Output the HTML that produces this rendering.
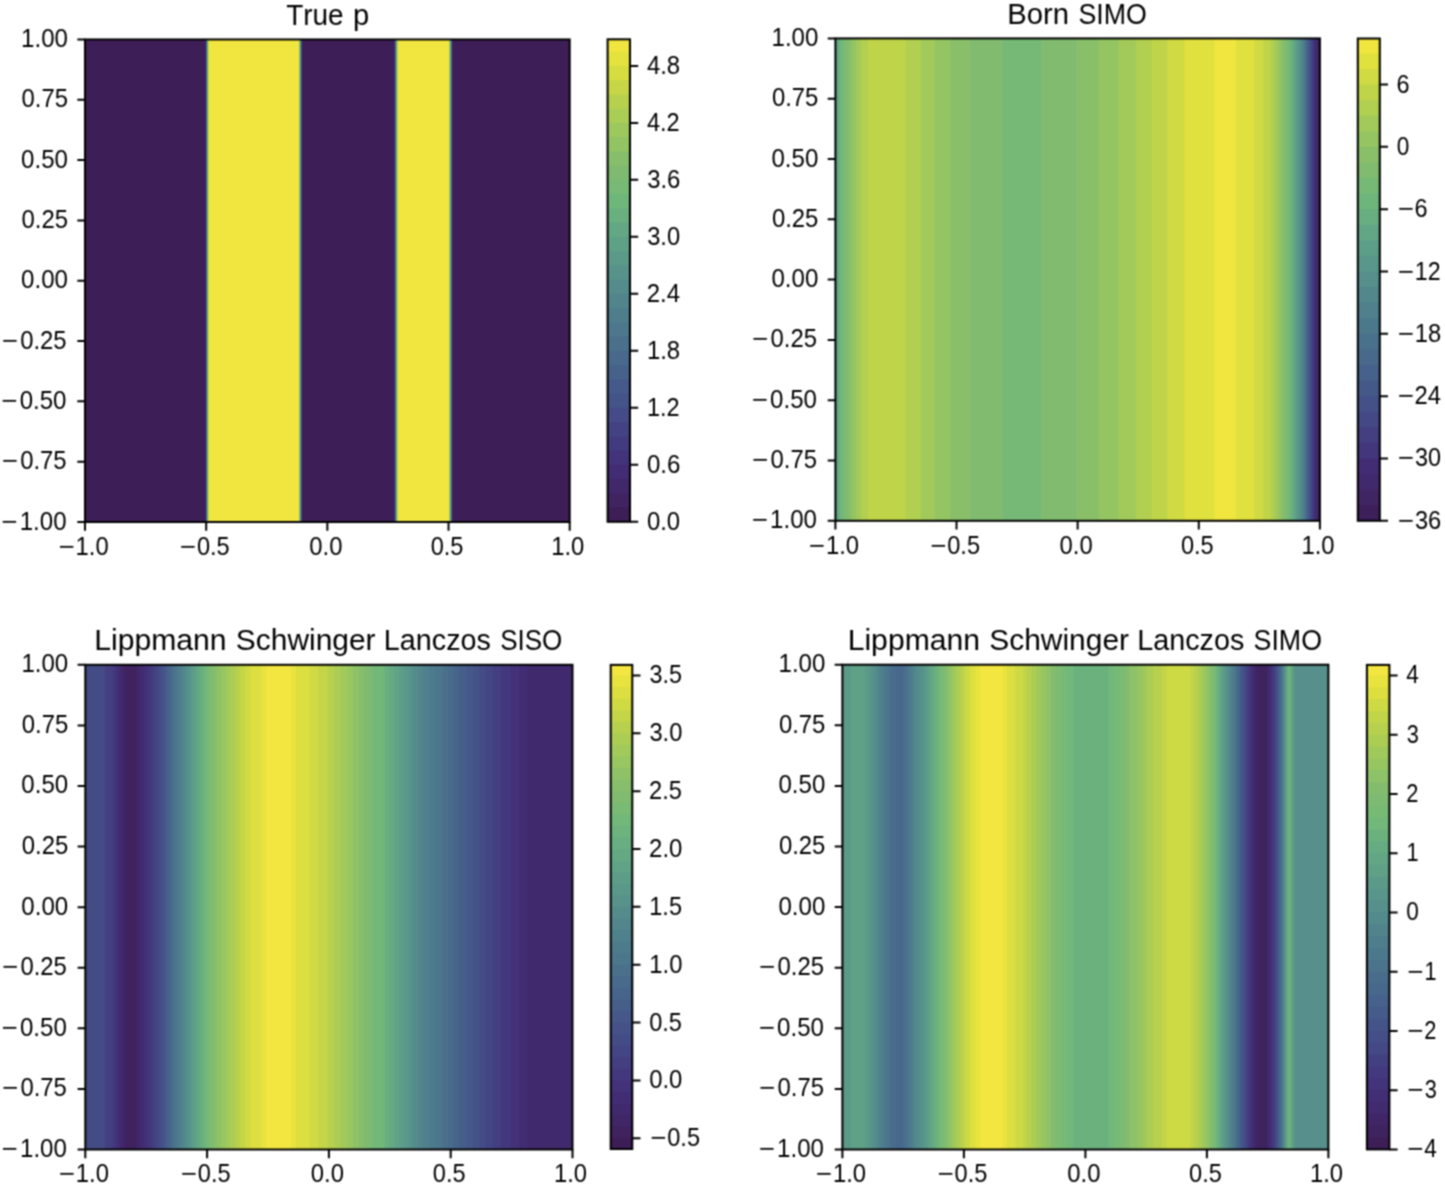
<!DOCTYPE html>
<html><head><meta charset="utf-8"><title>Figure</title>
<style>
html,body{margin:0;padding:0;background:#fff;}
body{width:1445px;height:1186px;overflow:hidden;}
svg{display:block;}
svg text{font-family:"Liberation Sans",sans-serif;fill:#000;font-kerning:none;}
</style></head><body>
<div id="fig"><svg width="1445" height="1186" viewBox="0 0 1445 1186">
<defs><filter id="soft" x="0" y="0" width="1445" height="1186" filterUnits="userSpaceOnUse" color-interpolation-filters="sRGB"><feConvolveMatrix order="3" kernelMatrix="1 2 1 2 4 2 1 2 1" edgeMode="duplicate" preserveAlpha="true"/></filter></defs>
<g filter="url(#soft)">
<rect width="1445" height="1186" fill="#fff"/>
<rect x="85.00" y="39.45" width="484.70" height="482.55" fill="#3d1e57"/>
<rect x="205.57" y="39.45" width="364.13" height="482.55" fill="#402462"/>
<rect x="205.67" y="39.45" width="364.03" height="482.55" fill="#41286b"/>
<rect x="205.79" y="39.45" width="363.91" height="482.55" fill="#422c73"/>
<rect x="205.89" y="39.45" width="363.81" height="482.55" fill="#43337a"/>
<rect x="205.99" y="39.45" width="363.71" height="482.55" fill="#433b7f"/>
<rect x="206.11" y="39.45" width="363.59" height="482.55" fill="#434383"/>
<rect x="206.21" y="39.45" width="363.49" height="482.55" fill="#444b86"/>
<rect x="206.31" y="39.45" width="363.39" height="482.55" fill="#445388"/>
<rect x="206.41" y="39.45" width="363.29" height="482.55" fill="#455a8a"/>
<rect x="206.53" y="39.45" width="363.17" height="482.55" fill="#46628b"/>
<rect x="206.63" y="39.45" width="363.07" height="482.55" fill="#48698b"/>
<rect x="206.73" y="39.45" width="362.97" height="482.55" fill="#4a708c"/>
<rect x="206.85" y="39.45" width="362.85" height="482.55" fill="#4c778c"/>
<rect x="206.95" y="39.45" width="362.75" height="482.55" fill="#4e7e8c"/>
<rect x="207.05" y="39.45" width="362.65" height="482.55" fill="#51858c"/>
<rect x="207.17" y="39.45" width="362.53" height="482.55" fill="#548c8c"/>
<rect x="207.27" y="39.45" width="362.43" height="482.55" fill="#57938b"/>
<rect x="207.37" y="39.45" width="362.33" height="482.55" fill="#5b9989"/>
<rect x="207.47" y="39.45" width="362.23" height="482.55" fill="#5fa187"/>
<rect x="207.59" y="39.45" width="362.11" height="482.55" fill="#63a784"/>
<rect x="207.69" y="39.45" width="362.01" height="482.55" fill="#69af80"/>
<rect x="207.79" y="39.45" width="361.91" height="482.55" fill="#6fb67b"/>
<rect x="207.91" y="39.45" width="361.79" height="482.55" fill="#76ba76"/>
<rect x="208.01" y="39.45" width="361.69" height="482.55" fill="#7ebb71"/>
<rect x="208.11" y="39.45" width="361.59" height="482.55" fill="#87be6c"/>
<rect x="208.23" y="39.45" width="361.47" height="482.55" fill="#92c464"/>
<rect x="208.33" y="39.45" width="361.37" height="482.55" fill="#9dc85d"/>
<rect x="208.43" y="39.45" width="361.27" height="482.55" fill="#aacd55"/>
<rect x="208.55" y="39.45" width="361.15" height="482.55" fill="#b7d04d"/>
<rect x="208.65" y="39.45" width="361.05" height="482.55" fill="#c6d646"/>
<rect x="208.75" y="39.45" width="360.95" height="482.55" fill="#d6dd41"/>
<rect x="208.85" y="39.45" width="360.85" height="482.55" fill="#e4e23e"/>
<rect x="208.97" y="39.45" width="360.73" height="482.55" fill="#f1e53f"/>
<rect x="298.93" y="39.45" width="270.77" height="482.55" fill="#e4e23e"/>
<rect x="299.05" y="39.45" width="270.65" height="482.55" fill="#d6dd41"/>
<rect x="299.15" y="39.45" width="270.55" height="482.55" fill="#c6d646"/>
<rect x="299.27" y="39.45" width="270.43" height="482.55" fill="#b7d04d"/>
<rect x="299.37" y="39.45" width="270.33" height="482.55" fill="#aacd55"/>
<rect x="299.49" y="39.45" width="270.21" height="482.55" fill="#9dc85d"/>
<rect x="299.59" y="39.45" width="270.11" height="482.55" fill="#92c464"/>
<rect x="299.71" y="39.45" width="269.99" height="482.55" fill="#87be6c"/>
<rect x="299.81" y="39.45" width="269.89" height="482.55" fill="#7ebb71"/>
<rect x="299.91" y="39.45" width="269.79" height="482.55" fill="#76ba76"/>
<rect x="300.03" y="39.45" width="269.67" height="482.55" fill="#6fb67b"/>
<rect x="300.13" y="39.45" width="269.57" height="482.55" fill="#69af80"/>
<rect x="300.25" y="39.45" width="269.45" height="482.55" fill="#63a784"/>
<rect x="300.35" y="39.45" width="269.35" height="482.55" fill="#5fa187"/>
<rect x="300.47" y="39.45" width="269.23" height="482.55" fill="#5b9989"/>
<rect x="300.57" y="39.45" width="269.13" height="482.55" fill="#57938b"/>
<rect x="300.69" y="39.45" width="269.01" height="482.55" fill="#548c8c"/>
<rect x="300.79" y="39.45" width="268.91" height="482.55" fill="#51858c"/>
<rect x="300.91" y="39.45" width="268.79" height="482.55" fill="#4e7e8c"/>
<rect x="301.01" y="39.45" width="268.69" height="482.55" fill="#4c778c"/>
<rect x="301.11" y="39.45" width="268.59" height="482.55" fill="#4a708c"/>
<rect x="301.23" y="39.45" width="268.47" height="482.55" fill="#48698b"/>
<rect x="301.33" y="39.45" width="268.37" height="482.55" fill="#46628b"/>
<rect x="301.45" y="39.45" width="268.25" height="482.55" fill="#455a8a"/>
<rect x="301.55" y="39.45" width="268.15" height="482.55" fill="#445388"/>
<rect x="301.67" y="39.45" width="268.03" height="482.55" fill="#444b86"/>
<rect x="301.77" y="39.45" width="267.93" height="482.55" fill="#434383"/>
<rect x="301.89" y="39.45" width="267.81" height="482.55" fill="#433b7f"/>
<rect x="301.99" y="39.45" width="267.71" height="482.55" fill="#43337a"/>
<rect x="302.11" y="39.45" width="267.59" height="482.55" fill="#422c73"/>
<rect x="302.21" y="39.45" width="267.49" height="482.55" fill="#41286b"/>
<rect x="302.31" y="39.45" width="267.39" height="482.55" fill="#402462"/>
<rect x="302.43" y="39.45" width="267.27" height="482.55" fill="#3d1e57"/>
<rect x="394.37" y="39.45" width="175.33" height="482.55" fill="#402462"/>
<rect x="394.49" y="39.45" width="175.21" height="482.55" fill="#41286b"/>
<rect x="394.61" y="39.45" width="175.09" height="482.55" fill="#422c73"/>
<rect x="394.73" y="39.45" width="174.97" height="482.55" fill="#43337a"/>
<rect x="394.83" y="39.45" width="174.87" height="482.55" fill="#433b7f"/>
<rect x="394.95" y="39.45" width="174.75" height="482.55" fill="#434383"/>
<rect x="395.07" y="39.45" width="174.63" height="482.55" fill="#444b86"/>
<rect x="395.19" y="39.45" width="174.51" height="482.55" fill="#445388"/>
<rect x="395.29" y="39.45" width="174.41" height="482.55" fill="#455a8a"/>
<rect x="395.41" y="39.45" width="174.29" height="482.55" fill="#46628b"/>
<rect x="395.53" y="39.45" width="174.17" height="482.55" fill="#48698b"/>
<rect x="395.65" y="39.45" width="174.05" height="482.55" fill="#4a708c"/>
<rect x="395.75" y="39.45" width="173.95" height="482.55" fill="#4c778c"/>
<rect x="395.87" y="39.45" width="173.83" height="482.55" fill="#4e7e8c"/>
<rect x="395.99" y="39.45" width="173.71" height="482.55" fill="#51858c"/>
<rect x="396.11" y="39.45" width="173.59" height="482.55" fill="#548c8c"/>
<rect x="396.21" y="39.45" width="173.49" height="482.55" fill="#57938b"/>
<rect x="396.33" y="39.45" width="173.37" height="482.55" fill="#5b9989"/>
<rect x="396.45" y="39.45" width="173.25" height="482.55" fill="#5fa187"/>
<rect x="396.57" y="39.45" width="173.13" height="482.55" fill="#63a784"/>
<rect x="396.67" y="39.45" width="173.03" height="482.55" fill="#69af80"/>
<rect x="396.79" y="39.45" width="172.91" height="482.55" fill="#6fb67b"/>
<rect x="396.91" y="39.45" width="172.79" height="482.55" fill="#76ba76"/>
<rect x="397.03" y="39.45" width="172.67" height="482.55" fill="#7ebb71"/>
<rect x="397.15" y="39.45" width="172.55" height="482.55" fill="#87be6c"/>
<rect x="397.25" y="39.45" width="172.45" height="482.55" fill="#92c464"/>
<rect x="397.37" y="39.45" width="172.33" height="482.55" fill="#9dc85d"/>
<rect x="397.49" y="39.45" width="172.21" height="482.55" fill="#aacd55"/>
<rect x="397.61" y="39.45" width="172.09" height="482.55" fill="#b7d04d"/>
<rect x="397.71" y="39.45" width="171.99" height="482.55" fill="#c6d646"/>
<rect x="397.83" y="39.45" width="171.87" height="482.55" fill="#d6dd41"/>
<rect x="397.95" y="39.45" width="171.75" height="482.55" fill="#e4e23e"/>
<rect x="398.07" y="39.45" width="171.63" height="482.55" fill="#f1e53f"/>
<rect x="449.13" y="39.45" width="120.57" height="482.55" fill="#e4e23e"/>
<rect x="449.25" y="39.45" width="120.45" height="482.55" fill="#d6dd41"/>
<rect x="449.37" y="39.45" width="120.33" height="482.55" fill="#c6d646"/>
<rect x="449.49" y="39.45" width="120.21" height="482.55" fill="#b7d04d"/>
<rect x="449.59" y="39.45" width="120.11" height="482.55" fill="#aacd55"/>
<rect x="449.71" y="39.45" width="119.99" height="482.55" fill="#9dc85d"/>
<rect x="449.83" y="39.45" width="119.87" height="482.55" fill="#92c464"/>
<rect x="449.95" y="39.45" width="119.75" height="482.55" fill="#87be6c"/>
<rect x="450.05" y="39.45" width="119.65" height="482.55" fill="#7ebb71"/>
<rect x="450.17" y="39.45" width="119.53" height="482.55" fill="#76ba76"/>
<rect x="450.29" y="39.45" width="119.41" height="482.55" fill="#6fb67b"/>
<rect x="450.41" y="39.45" width="119.29" height="482.55" fill="#69af80"/>
<rect x="450.53" y="39.45" width="119.17" height="482.55" fill="#63a784"/>
<rect x="450.63" y="39.45" width="119.07" height="482.55" fill="#5fa187"/>
<rect x="450.75" y="39.45" width="118.95" height="482.55" fill="#5b9989"/>
<rect x="450.87" y="39.45" width="118.83" height="482.55" fill="#57938b"/>
<rect x="450.99" y="39.45" width="118.71" height="482.55" fill="#548c8c"/>
<rect x="451.09" y="39.45" width="118.61" height="482.55" fill="#51858c"/>
<rect x="451.21" y="39.45" width="118.49" height="482.55" fill="#4e7e8c"/>
<rect x="451.33" y="39.45" width="118.37" height="482.55" fill="#4c778c"/>
<rect x="451.45" y="39.45" width="118.25" height="482.55" fill="#4a708c"/>
<rect x="451.55" y="39.45" width="118.15" height="482.55" fill="#48698b"/>
<rect x="451.67" y="39.45" width="118.03" height="482.55" fill="#46628b"/>
<rect x="451.79" y="39.45" width="117.91" height="482.55" fill="#455a8a"/>
<rect x="451.91" y="39.45" width="117.79" height="482.55" fill="#445388"/>
<rect x="452.01" y="39.45" width="117.69" height="482.55" fill="#444b86"/>
<rect x="452.13" y="39.45" width="117.57" height="482.55" fill="#434383"/>
<rect x="452.25" y="39.45" width="117.45" height="482.55" fill="#433b7f"/>
<rect x="452.37" y="39.45" width="117.33" height="482.55" fill="#43337a"/>
<rect x="452.47" y="39.45" width="117.23" height="482.55" fill="#422c73"/>
<rect x="452.59" y="39.45" width="117.11" height="482.55" fill="#41286b"/>
<rect x="452.71" y="39.45" width="116.99" height="482.55" fill="#402462"/>
<rect x="452.83" y="39.45" width="116.87" height="482.55" fill="#3d1e57"/>
<rect x="607.60" y="39.30" width="22.40" height="482.50" fill="#3d1e57"/>
<rect x="607.60" y="39.30" width="22.40" height="468.25" fill="#402462"/>
<rect x="607.60" y="39.30" width="22.40" height="454.01" fill="#41286b"/>
<rect x="607.60" y="39.30" width="22.40" height="439.76" fill="#422c73"/>
<rect x="607.60" y="39.30" width="22.40" height="425.51" fill="#43337a"/>
<rect x="607.60" y="39.30" width="22.40" height="411.26" fill="#433b7f"/>
<rect x="607.60" y="39.30" width="22.40" height="397.02" fill="#434383"/>
<rect x="607.60" y="39.30" width="22.40" height="382.77" fill="#444b86"/>
<rect x="607.60" y="39.30" width="22.40" height="368.52" fill="#445388"/>
<rect x="607.60" y="39.30" width="22.40" height="354.28" fill="#455a8a"/>
<rect x="607.60" y="39.30" width="22.40" height="340.03" fill="#46628b"/>
<rect x="607.60" y="39.30" width="22.40" height="325.78" fill="#48698b"/>
<rect x="607.60" y="39.30" width="22.40" height="311.54" fill="#4a708c"/>
<rect x="607.60" y="39.30" width="22.40" height="297.29" fill="#4c778c"/>
<rect x="607.60" y="39.30" width="22.40" height="283.04" fill="#4e7e8c"/>
<rect x="607.60" y="39.30" width="22.40" height="268.79" fill="#51858c"/>
<rect x="607.60" y="39.30" width="22.40" height="254.55" fill="#548c8c"/>
<rect x="607.60" y="39.30" width="22.40" height="240.30" fill="#57938b"/>
<rect x="607.60" y="39.30" width="22.40" height="226.05" fill="#5b9989"/>
<rect x="607.60" y="39.30" width="22.40" height="211.81" fill="#5fa187"/>
<rect x="607.60" y="39.30" width="22.40" height="197.56" fill="#63a784"/>
<rect x="607.60" y="39.30" width="22.40" height="183.31" fill="#69af80"/>
<rect x="607.60" y="39.30" width="22.40" height="169.06" fill="#6fb67b"/>
<rect x="607.60" y="39.30" width="22.40" height="154.82" fill="#76ba76"/>
<rect x="607.60" y="39.30" width="22.40" height="140.57" fill="#7ebb71"/>
<rect x="607.60" y="39.30" width="22.40" height="126.32" fill="#87be6c"/>
<rect x="607.60" y="39.30" width="22.40" height="112.08" fill="#92c464"/>
<rect x="607.60" y="39.30" width="22.40" height="97.83" fill="#9dc85d"/>
<rect x="607.60" y="39.30" width="22.40" height="83.58" fill="#aacd55"/>
<rect x="607.60" y="39.30" width="22.40" height="69.34" fill="#b7d04d"/>
<rect x="607.60" y="39.30" width="22.40" height="55.09" fill="#c6d646"/>
<rect x="607.60" y="39.30" width="22.40" height="40.84" fill="#d6dd41"/>
<rect x="607.60" y="39.30" width="22.40" height="26.59" fill="#e4e23e"/>
<rect x="607.60" y="39.30" width="22.40" height="12.35" fill="#f1e53f"/>
<rect x="85.00" y="39.45" width="484.70" height="482.55" fill="none" stroke="#000" stroke-width="2.00"/>
<rect x="607.60" y="39.30" width="22.40" height="482.50" fill="none" stroke="#000" stroke-width="2.00"/>
<path d="M77.30 39.45H85.00 M77.30 99.77H85.00 M77.30 160.09H85.00 M77.30 220.41H85.00 M77.30 280.73H85.00 M77.30 341.04H85.00 M77.30 401.36H85.00 M77.30 461.68H85.00 M77.30 522.00H85.00 M85.00 522.00V530.80 M206.18 522.00V530.80 M327.35 522.00V530.80 M448.53 522.00V530.80 M569.70 522.00V530.80 M630.00 521.80H638.20 M630.00 464.81H638.20 M630.00 407.82H638.20 M630.00 350.84H638.20 M630.00 293.85H638.20 M630.00 236.86H638.20 M630.00 179.87H638.20 M630.00 122.88H638.20 M630.00 65.89H638.20" stroke="#000" stroke-width="2.00" fill="none"/>
<text x="21.12" y="46.95" textLength="46.82" lengthAdjust="spacingAndGlyphs" font-size="25.00">1.00</text>
<text x="21.53" y="107.27" textLength="46.48" lengthAdjust="spacingAndGlyphs" font-size="25.00">0.75</text>
<text x="21.07" y="167.59" textLength="46.87" lengthAdjust="spacingAndGlyphs" font-size="25.00">0.50</text>
<text x="21.53" y="227.91" textLength="46.48" lengthAdjust="spacingAndGlyphs" font-size="25.00">0.25</text>
<text x="21.07" y="288.23" textLength="46.87" lengthAdjust="spacingAndGlyphs" font-size="25.00">0.00</text>
<text x="1.95" y="348.54" textLength="16.17" lengthAdjust="spacingAndGlyphs" font-size="25.00">−</text>
<text x="20.13" y="348.54" textLength="46.48" lengthAdjust="spacingAndGlyphs" font-size="25.00">0.25</text>
<text x="1.50" y="408.86" textLength="16.17" lengthAdjust="spacingAndGlyphs" font-size="25.00">−</text>
<text x="19.67" y="408.86" textLength="46.87" lengthAdjust="spacingAndGlyphs" font-size="25.00">0.50</text>
<text x="1.95" y="469.18" textLength="16.17" lengthAdjust="spacingAndGlyphs" font-size="25.00">−</text>
<text x="20.13" y="469.18" textLength="46.48" lengthAdjust="spacingAndGlyphs" font-size="25.00">0.75</text>
<text x="1.50" y="529.50" textLength="16.17" lengthAdjust="spacingAndGlyphs" font-size="25.00">−</text>
<text x="19.72" y="529.50" textLength="46.82" lengthAdjust="spacingAndGlyphs" font-size="25.00">1.00</text>
<text x="58.70" y="554.80" textLength="16.17" lengthAdjust="spacingAndGlyphs" font-size="25.00">−</text>
<text x="75.54" y="554.80" textLength="33.13" lengthAdjust="spacingAndGlyphs" font-size="25.00">1.0</text>
<text x="180.10" y="554.80" textLength="16.17" lengthAdjust="spacingAndGlyphs" font-size="25.00">−</text>
<text x="196.89" y="554.80" textLength="32.78" lengthAdjust="spacingAndGlyphs" font-size="25.00">0.5</text>
<text x="309.26" y="554.80" textLength="33.19" lengthAdjust="spacingAndGlyphs" font-size="25.00">0.0</text>
<text x="430.67" y="554.80" textLength="32.78" lengthAdjust="spacingAndGlyphs" font-size="25.00">0.5</text>
<text x="551.20" y="554.80" textLength="33.13" lengthAdjust="spacingAndGlyphs" font-size="25.00">1.0</text>
<text x="646.90" y="529.80" textLength="33.19" lengthAdjust="spacingAndGlyphs" font-size="25.00">0.0</text>
<text x="646.89" y="472.81" textLength="33.39" lengthAdjust="spacingAndGlyphs" font-size="25.00">0.6</text>
<text x="647.00" y="415.82" textLength="32.62" lengthAdjust="spacingAndGlyphs" font-size="25.00">1.2</text>
<text x="646.96" y="358.84" textLength="33.19" lengthAdjust="spacingAndGlyphs" font-size="25.00">1.8</text>
<text x="646.79" y="301.85" textLength="33.29" lengthAdjust="spacingAndGlyphs" font-size="25.00">2.4</text>
<text x="647.15" y="244.86" textLength="32.93" lengthAdjust="spacingAndGlyphs" font-size="25.00">3.0</text>
<text x="647.15" y="187.87" textLength="33.13" lengthAdjust="spacingAndGlyphs" font-size="25.00">3.6</text>
<text x="646.92" y="130.88" textLength="32.69" lengthAdjust="spacingAndGlyphs" font-size="25.00">4.2</text>
<text x="646.91" y="73.89" textLength="33.23" lengthAdjust="spacingAndGlyphs" font-size="25.00">4.8</text>
<text x="286.19" y="24.55" textLength="57.43" lengthAdjust="spacingAndGlyphs" font-size="29.80">True</text>
<text x="352.88" y="24.55" textLength="16.22" lengthAdjust="spacingAndGlyphs" font-size="29.80">p</text>
<rect x="835.40" y="38.40" width="484.50" height="482.40" fill="#5d9e88"/>
<rect x="836.05" y="38.40" width="483.85" height="482.40" fill="#62a685"/>
<rect x="838.01" y="38.40" width="481.89" height="482.40" fill="#68ae81"/>
<rect x="840.01" y="38.40" width="479.89" height="482.40" fill="#6eb57c"/>
<rect x="841.51" y="38.40" width="478.39" height="482.40" fill="#76b976"/>
<rect x="844.81" y="38.40" width="475.09" height="482.40" fill="#80bb70"/>
<rect x="849.01" y="38.40" width="470.89" height="482.40" fill="#8abf6a"/>
<rect x="851.91" y="38.40" width="467.99" height="482.40" fill="#95c562"/>
<rect x="856.01" y="38.40" width="463.89" height="482.40" fill="#a2ca5a"/>
<rect x="860.61" y="38.40" width="459.29" height="482.40" fill="#b1cf50"/>
<rect x="867.81" y="38.40" width="452.09" height="482.40" fill="#c0d449"/>
<rect x="905.51" y="38.40" width="414.39" height="482.40" fill="#b1cf50"/>
<rect x="920.81" y="38.40" width="399.09" height="482.40" fill="#a2ca5a"/>
<rect x="934.71" y="38.40" width="385.19" height="482.40" fill="#95c562"/>
<rect x="950.21" y="38.40" width="369.69" height="482.40" fill="#8abf6a"/>
<rect x="970.01" y="38.40" width="349.89" height="482.40" fill="#80bb70"/>
<rect x="1002.81" y="38.40" width="317.09" height="482.40" fill="#76b976"/>
<rect x="1041.31" y="38.40" width="278.59" height="482.40" fill="#80bb70"/>
<rect x="1076.41" y="38.40" width="243.49" height="482.40" fill="#8abf6a"/>
<rect x="1098.61" y="38.40" width="221.29" height="482.40" fill="#95c562"/>
<rect x="1118.61" y="38.40" width="201.29" height="482.40" fill="#a2ca5a"/>
<rect x="1136.01" y="38.40" width="183.89" height="482.40" fill="#b1cf50"/>
<rect x="1151.81" y="38.40" width="168.09" height="482.40" fill="#c0d449"/>
<rect x="1167.61" y="38.40" width="152.29" height="482.40" fill="#d0db43"/>
<rect x="1184.51" y="38.40" width="135.39" height="482.40" fill="#e0e13e"/>
<rect x="1214.21" y="38.40" width="105.69" height="482.40" fill="#f1e53f"/>
<rect x="1235.91" y="38.40" width="83.99" height="482.40" fill="#e0e13e"/>
<rect x="1254.21" y="38.40" width="65.69" height="482.40" fill="#d0db43"/>
<rect x="1263.31" y="38.40" width="56.59" height="482.40" fill="#c0d449"/>
<rect x="1270.81" y="38.40" width="49.09" height="482.40" fill="#b1cf50"/>
<rect x="1274.51" y="38.40" width="45.39" height="482.40" fill="#a2ca5a"/>
<rect x="1277.83" y="38.40" width="42.07" height="482.40" fill="#95c562"/>
<rect x="1280.89" y="38.40" width="39.01" height="482.40" fill="#8abf6a"/>
<rect x="1283.71" y="38.40" width="36.19" height="482.40" fill="#80bb70"/>
<rect x="1286.47" y="38.40" width="33.43" height="482.40" fill="#76b976"/>
<rect x="1289.01" y="38.40" width="30.89" height="482.40" fill="#6eb57c"/>
<rect x="1291.13" y="38.40" width="28.77" height="482.40" fill="#68ae81"/>
<rect x="1293.23" y="38.40" width="26.67" height="482.40" fill="#62a685"/>
<rect x="1295.31" y="38.40" width="24.59" height="482.40" fill="#5d9e88"/>
<rect x="1297.15" y="38.40" width="22.75" height="482.40" fill="#59978a"/>
<rect x="1299.01" y="38.40" width="20.89" height="482.40" fill="#568f8b"/>
<rect x="1300.85" y="38.40" width="19.05" height="482.40" fill="#52878c"/>
<rect x="1302.71" y="38.40" width="17.19" height="482.40" fill="#4f808c"/>
<rect x="1303.83" y="38.40" width="16.07" height="482.40" fill="#4c788c"/>
<rect x="1304.95" y="38.40" width="14.95" height="482.40" fill="#4a718c"/>
<rect x="1306.07" y="38.40" width="13.83" height="482.40" fill="#48698b"/>
<rect x="1307.21" y="38.40" width="12.69" height="482.40" fill="#46618b"/>
<rect x="1308.33" y="38.40" width="11.57" height="482.40" fill="#455989"/>
<rect x="1309.45" y="38.40" width="10.45" height="482.40" fill="#445188"/>
<rect x="1310.57" y="38.40" width="9.33" height="482.40" fill="#444885"/>
<rect x="1311.71" y="38.40" width="8.19" height="482.40" fill="#433f81"/>
<rect x="1313.05" y="38.40" width="6.85" height="482.40" fill="#43367c"/>
<rect x="1314.41" y="38.40" width="5.49" height="482.40" fill="#422d75"/>
<rect x="1315.75" y="38.40" width="4.15" height="482.40" fill="#41296d"/>
<rect x="1317.13" y="38.40" width="2.77" height="482.40" fill="#402563"/>
<rect x="1318.51" y="38.40" width="1.39" height="482.40" fill="#3d1f59"/>
<rect x="1357.80" y="38.50" width="22.00" height="482.30" fill="#3d1f59"/>
<rect x="1357.80" y="38.50" width="22.00" height="466.72" fill="#402563"/>
<rect x="1357.80" y="38.50" width="22.00" height="451.14" fill="#41296d"/>
<rect x="1357.80" y="38.50" width="22.00" height="435.56" fill="#422d75"/>
<rect x="1357.80" y="38.50" width="22.00" height="419.97" fill="#43367c"/>
<rect x="1357.80" y="38.50" width="22.00" height="404.39" fill="#433f81"/>
<rect x="1357.80" y="38.50" width="22.00" height="388.81" fill="#444885"/>
<rect x="1357.80" y="38.50" width="22.00" height="373.23" fill="#445188"/>
<rect x="1357.80" y="38.50" width="22.00" height="357.65" fill="#455989"/>
<rect x="1357.80" y="38.50" width="22.00" height="342.07" fill="#46618b"/>
<rect x="1357.80" y="38.50" width="22.00" height="326.48" fill="#48698b"/>
<rect x="1357.80" y="38.50" width="22.00" height="310.90" fill="#4a718c"/>
<rect x="1357.80" y="38.50" width="22.00" height="295.32" fill="#4c788c"/>
<rect x="1357.80" y="38.50" width="22.00" height="279.74" fill="#4f808c"/>
<rect x="1357.80" y="38.50" width="22.00" height="264.16" fill="#52878c"/>
<rect x="1357.80" y="38.50" width="22.00" height="248.58" fill="#568f8b"/>
<rect x="1357.80" y="38.50" width="22.00" height="233.00" fill="#59978a"/>
<rect x="1357.80" y="38.50" width="22.00" height="217.41" fill="#5d9e88"/>
<rect x="1357.80" y="38.50" width="22.00" height="201.83" fill="#62a685"/>
<rect x="1357.80" y="38.50" width="22.00" height="186.25" fill="#68ae81"/>
<rect x="1357.80" y="38.50" width="22.00" height="170.67" fill="#6eb57c"/>
<rect x="1357.80" y="38.50" width="22.00" height="155.09" fill="#76b976"/>
<rect x="1357.80" y="38.50" width="22.00" height="139.51" fill="#80bb70"/>
<rect x="1357.80" y="38.50" width="22.00" height="123.93" fill="#8abf6a"/>
<rect x="1357.80" y="38.50" width="22.00" height="108.34" fill="#95c562"/>
<rect x="1357.80" y="38.50" width="22.00" height="92.76" fill="#a2ca5a"/>
<rect x="1357.80" y="38.50" width="22.00" height="77.18" fill="#b1cf50"/>
<rect x="1357.80" y="38.50" width="22.00" height="61.60" fill="#c0d449"/>
<rect x="1357.80" y="38.50" width="22.00" height="46.02" fill="#d0db43"/>
<rect x="1357.80" y="38.50" width="22.00" height="30.44" fill="#e0e13e"/>
<rect x="1357.80" y="38.50" width="22.00" height="14.85" fill="#f1e53f"/>
<rect x="835.40" y="38.40" width="484.50" height="482.40" fill="none" stroke="#000" stroke-width="2.00"/>
<rect x="1357.80" y="38.50" width="22.00" height="482.30" fill="none" stroke="#000" stroke-width="2.00"/>
<path d="M827.70 38.40H835.40 M827.70 98.70H835.40 M827.70 159.00H835.40 M827.70 219.30H835.40 M827.70 279.60H835.40 M827.70 339.90H835.40 M827.70 400.20H835.40 M827.70 460.50H835.40 M827.70 520.80H835.40 M835.40 520.80V529.60 M956.52 520.80V529.60 M1077.65 520.80V529.60 M1198.78 520.80V529.60 M1319.90 520.80V529.60 M1379.80 520.80H1388.00 M1379.80 458.47H1388.00 M1379.80 396.15H1388.00 M1379.80 333.82H1388.00 M1379.80 271.50H1388.00 M1379.80 209.17H1388.00 M1379.80 146.84H1388.00 M1379.80 84.52H1388.00" stroke="#000" stroke-width="2.00" fill="none"/>
<text x="771.52" y="45.90" textLength="46.82" lengthAdjust="spacingAndGlyphs" font-size="25.00">1.00</text>
<text x="771.93" y="106.20" textLength="46.48" lengthAdjust="spacingAndGlyphs" font-size="25.00">0.75</text>
<text x="771.47" y="166.50" textLength="46.87" lengthAdjust="spacingAndGlyphs" font-size="25.00">0.50</text>
<text x="771.93" y="226.80" textLength="46.48" lengthAdjust="spacingAndGlyphs" font-size="25.00">0.25</text>
<text x="771.47" y="287.10" textLength="46.87" lengthAdjust="spacingAndGlyphs" font-size="25.00">0.00</text>
<text x="752.35" y="347.40" textLength="16.17" lengthAdjust="spacingAndGlyphs" font-size="25.00">−</text>
<text x="770.53" y="347.40" textLength="46.48" lengthAdjust="spacingAndGlyphs" font-size="25.00">0.25</text>
<text x="751.90" y="407.70" textLength="16.17" lengthAdjust="spacingAndGlyphs" font-size="25.00">−</text>
<text x="770.07" y="407.70" textLength="46.87" lengthAdjust="spacingAndGlyphs" font-size="25.00">0.50</text>
<text x="752.35" y="468.00" textLength="16.17" lengthAdjust="spacingAndGlyphs" font-size="25.00">−</text>
<text x="770.53" y="468.00" textLength="46.48" lengthAdjust="spacingAndGlyphs" font-size="25.00">0.75</text>
<text x="751.90" y="528.30" textLength="16.17" lengthAdjust="spacingAndGlyphs" font-size="25.00">−</text>
<text x="770.12" y="528.30" textLength="46.82" lengthAdjust="spacingAndGlyphs" font-size="25.00">1.00</text>
<text x="809.10" y="553.60" textLength="16.17" lengthAdjust="spacingAndGlyphs" font-size="25.00">−</text>
<text x="825.94" y="553.60" textLength="33.13" lengthAdjust="spacingAndGlyphs" font-size="25.00">1.0</text>
<text x="930.45" y="553.60" textLength="16.17" lengthAdjust="spacingAndGlyphs" font-size="25.00">−</text>
<text x="947.24" y="553.60" textLength="32.78" lengthAdjust="spacingAndGlyphs" font-size="25.00">0.5</text>
<text x="1059.56" y="553.60" textLength="33.19" lengthAdjust="spacingAndGlyphs" font-size="25.00">0.0</text>
<text x="1180.92" y="553.60" textLength="32.78" lengthAdjust="spacingAndGlyphs" font-size="25.00">0.5</text>
<text x="1301.40" y="553.60" textLength="33.13" lengthAdjust="spacingAndGlyphs" font-size="25.00">1.0</text>
<text x="1397.94" y="528.80" textLength="16.17" lengthAdjust="spacingAndGlyphs" font-size="25.00">−</text>
<text x="1414.96" y="528.80" textLength="26.28" lengthAdjust="spacingAndGlyphs" font-size="25.00">36</text>
<text x="1397.94" y="466.47" textLength="16.17" lengthAdjust="spacingAndGlyphs" font-size="25.00">−</text>
<text x="1414.97" y="466.47" textLength="26.08" lengthAdjust="spacingAndGlyphs" font-size="25.00">30</text>
<text x="1397.94" y="404.15" textLength="16.17" lengthAdjust="spacingAndGlyphs" font-size="25.00">−</text>
<text x="1414.60" y="404.15" textLength="26.45" lengthAdjust="spacingAndGlyphs" font-size="25.00">24</text>
<text x="1397.94" y="341.82" textLength="16.17" lengthAdjust="spacingAndGlyphs" font-size="25.00">−</text>
<text x="1414.78" y="341.82" textLength="26.34" lengthAdjust="spacingAndGlyphs" font-size="25.00">18</text>
<text x="1397.94" y="279.50" textLength="16.17" lengthAdjust="spacingAndGlyphs" font-size="25.00">−</text>
<text x="1414.82" y="279.50" textLength="25.75" lengthAdjust="spacingAndGlyphs" font-size="25.00">12</text>
<text x="1397.94" y="217.17" textLength="16.17" lengthAdjust="spacingAndGlyphs" font-size="25.00">−</text>
<text x="1414.54" y="217.17" textLength="13.04" lengthAdjust="spacingAndGlyphs" font-size="25.00">6</text>
<text x="1396.75" y="154.84" textLength="12.59" lengthAdjust="spacingAndGlyphs" font-size="25.00">0</text>
<text x="1396.53" y="92.52" textLength="13.04" lengthAdjust="spacingAndGlyphs" font-size="25.00">6</text>
<text x="1007.34" y="23.50" textLength="61.71" lengthAdjust="spacingAndGlyphs" font-size="29.80">Born</text>
<text x="1078.49" y="23.50" textLength="68.35" lengthAdjust="spacingAndGlyphs" font-size="29.80">SIMO</text>
<rect x="85.30" y="664.80" width="487.20" height="484.70" fill="#444c86"/>
<rect x="104.03" y="664.80" width="468.47" height="484.70" fill="#444584"/>
<rect x="106.15" y="664.80" width="466.35" height="484.70" fill="#433f81"/>
<rect x="112.63" y="664.80" width="459.87" height="484.70" fill="#43387e"/>
<rect x="115.35" y="664.80" width="457.15" height="484.70" fill="#433279"/>
<rect x="117.81" y="664.80" width="454.69" height="484.70" fill="#422d74"/>
<rect x="119.97" y="664.80" width="452.53" height="484.70" fill="#41296d"/>
<rect x="122.55" y="664.80" width="449.95" height="484.70" fill="#402666"/>
<rect x="125.51" y="664.80" width="446.99" height="484.70" fill="#3f225e"/>
<rect x="136.01" y="664.80" width="436.49" height="484.70" fill="#402666"/>
<rect x="138.39" y="664.80" width="434.11" height="484.70" fill="#41296d"/>
<rect x="141.27" y="664.80" width="431.23" height="484.70" fill="#422d74"/>
<rect x="145.11" y="664.80" width="427.39" height="484.70" fill="#433279"/>
<rect x="148.73" y="664.80" width="423.77" height="484.70" fill="#43387e"/>
<rect x="152.15" y="664.80" width="420.35" height="484.70" fill="#433f81"/>
<rect x="155.15" y="664.80" width="417.35" height="484.70" fill="#444584"/>
<rect x="158.13" y="664.80" width="414.37" height="484.70" fill="#444c86"/>
<rect x="161.07" y="664.80" width="411.43" height="484.70" fill="#445288"/>
<rect x="163.57" y="664.80" width="408.93" height="484.70" fill="#455889"/>
<rect x="165.79" y="664.80" width="406.71" height="484.70" fill="#465f8a"/>
<rect x="167.95" y="664.80" width="404.55" height="484.70" fill="#47658b"/>
<rect x="170.07" y="664.80" width="402.43" height="484.70" fill="#486a8b"/>
<rect x="172.21" y="664.80" width="400.29" height="484.70" fill="#4a708c"/>
<rect x="174.37" y="664.80" width="398.13" height="484.70" fill="#4b768c"/>
<rect x="176.83" y="664.80" width="395.67" height="484.70" fill="#4d7b8c"/>
<rect x="179.49" y="664.80" width="393.01" height="484.70" fill="#4f818c"/>
<rect x="182.21" y="664.80" width="390.29" height="484.70" fill="#52868c"/>
<rect x="184.93" y="664.80" width="387.57" height="484.70" fill="#548c8c"/>
<rect x="187.39" y="664.80" width="385.11" height="484.70" fill="#57928b"/>
<rect x="189.87" y="664.80" width="382.63" height="484.70" fill="#5a988a"/>
<rect x="192.43" y="664.80" width="380.07" height="484.70" fill="#5d9d88"/>
<rect x="194.97" y="664.80" width="377.53" height="484.70" fill="#60a386"/>
<rect x="197.45" y="664.80" width="375.05" height="484.70" fill="#64a884"/>
<rect x="199.93" y="664.80" width="372.57" height="484.70" fill="#68ae81"/>
<rect x="202.49" y="664.80" width="370.01" height="484.70" fill="#6db37d"/>
<rect x="205.03" y="664.80" width="367.47" height="484.70" fill="#72b879"/>
<rect x="207.67" y="664.80" width="364.83" height="484.70" fill="#79ba74"/>
<rect x="210.31" y="664.80" width="362.19" height="484.70" fill="#80bb70"/>
<rect x="213.59" y="664.80" width="358.91" height="484.70" fill="#87be6c"/>
<rect x="217.09" y="664.80" width="355.41" height="484.70" fill="#8fc267"/>
<rect x="221.01" y="664.80" width="351.49" height="484.70" fill="#98c660"/>
<rect x="225.83" y="664.80" width="346.67" height="484.70" fill="#a2ca5a"/>
<rect x="229.91" y="664.80" width="342.59" height="484.70" fill="#accd54"/>
<rect x="235.47" y="664.80" width="337.03" height="484.70" fill="#b7d04d"/>
<rect x="239.63" y="664.80" width="332.87" height="484.70" fill="#c4d547"/>
<rect x="244.95" y="664.80" width="327.55" height="484.70" fill="#d0da43"/>
<rect x="250.59" y="664.80" width="321.91" height="484.70" fill="#dcdf3f"/>
<rect x="260.97" y="664.80" width="311.53" height="484.70" fill="#e8e33e"/>
<rect x="265.99" y="664.80" width="306.51" height="484.70" fill="#f3e640"/>
<rect x="291.01" y="664.80" width="281.49" height="484.70" fill="#e8e33e"/>
<rect x="296.03" y="664.80" width="276.47" height="484.70" fill="#dcdf3f"/>
<rect x="309.53" y="664.80" width="262.97" height="484.70" fill="#d0da43"/>
<rect x="318.33" y="664.80" width="254.17" height="484.70" fill="#c4d547"/>
<rect x="327.63" y="664.80" width="244.87" height="484.70" fill="#b7d04d"/>
<rect x="334.29" y="664.80" width="238.21" height="484.70" fill="#accd54"/>
<rect x="340.33" y="664.80" width="232.17" height="484.70" fill="#a2ca5a"/>
<rect x="347.33" y="664.80" width="225.17" height="484.70" fill="#98c660"/>
<rect x="353.05" y="664.80" width="219.45" height="484.70" fill="#8fc267"/>
<rect x="358.67" y="664.80" width="213.83" height="484.70" fill="#87be6c"/>
<rect x="364.21" y="664.80" width="208.29" height="484.70" fill="#80bb70"/>
<rect x="369.13" y="664.80" width="203.37" height="484.70" fill="#79ba74"/>
<rect x="373.53" y="664.80" width="198.97" height="484.70" fill="#72b879"/>
<rect x="383.63" y="664.80" width="188.87" height="484.70" fill="#6db37d"/>
<rect x="385.33" y="664.80" width="187.17" height="484.70" fill="#68ae81"/>
<rect x="389.47" y="664.80" width="183.03" height="484.70" fill="#64a884"/>
<rect x="394.53" y="664.80" width="177.97" height="484.70" fill="#60a386"/>
<rect x="399.37" y="664.80" width="173.13" height="484.70" fill="#5d9d88"/>
<rect x="404.13" y="664.80" width="168.37" height="484.70" fill="#5a988a"/>
<rect x="408.43" y="664.80" width="164.07" height="484.70" fill="#57928b"/>
<rect x="412.73" y="664.80" width="159.77" height="484.70" fill="#548c8c"/>
<rect x="417.87" y="664.80" width="154.63" height="484.70" fill="#52868c"/>
<rect x="423.15" y="664.80" width="149.35" height="484.70" fill="#4f818c"/>
<rect x="428.71" y="664.80" width="143.79" height="484.70" fill="#4d7b8c"/>
<rect x="435.53" y="664.80" width="136.97" height="484.70" fill="#4b768c"/>
<rect x="442.79" y="664.80" width="129.71" height="484.70" fill="#4a708c"/>
<rect x="448.37" y="664.80" width="124.13" height="484.70" fill="#486a8b"/>
<rect x="453.53" y="664.80" width="118.97" height="484.70" fill="#47658b"/>
<rect x="458.59" y="664.80" width="113.91" height="484.70" fill="#465f8a"/>
<rect x="466.25" y="664.80" width="106.25" height="484.70" fill="#455889"/>
<rect x="473.31" y="664.80" width="99.19" height="484.70" fill="#445288"/>
<rect x="479.35" y="664.80" width="93.15" height="484.70" fill="#444c86"/>
<rect x="485.49" y="664.80" width="87.01" height="484.70" fill="#444584"/>
<rect x="492.83" y="664.80" width="79.67" height="484.70" fill="#433f81"/>
<rect x="501.01" y="664.80" width="71.49" height="484.70" fill="#43387e"/>
<rect x="510.17" y="664.80" width="62.33" height="484.70" fill="#433279"/>
<rect x="519.01" y="664.80" width="53.49" height="484.70" fill="#422d74"/>
<rect x="527.39" y="664.80" width="45.11" height="484.70" fill="#41296d"/>
<rect x="610.70" y="664.90" width="21.60" height="484.10" fill="#3d1d56"/>
<rect x="610.70" y="664.90" width="21.60" height="473.34" fill="#3f225e"/>
<rect x="610.70" y="664.90" width="21.60" height="461.77" fill="#402666"/>
<rect x="610.70" y="664.90" width="21.60" height="450.20" fill="#41296d"/>
<rect x="610.70" y="664.90" width="21.60" height="438.63" fill="#422d74"/>
<rect x="610.70" y="664.90" width="21.60" height="427.06" fill="#433279"/>
<rect x="610.70" y="664.90" width="21.60" height="415.49" fill="#43387e"/>
<rect x="610.70" y="664.90" width="21.60" height="403.92" fill="#433f81"/>
<rect x="610.70" y="664.90" width="21.60" height="392.35" fill="#444584"/>
<rect x="610.70" y="664.90" width="21.60" height="380.78" fill="#444c86"/>
<rect x="610.70" y="664.90" width="21.60" height="369.21" fill="#445288"/>
<rect x="610.70" y="664.90" width="21.60" height="357.64" fill="#455889"/>
<rect x="610.70" y="664.90" width="21.60" height="346.07" fill="#465f8a"/>
<rect x="610.70" y="664.90" width="21.60" height="334.50" fill="#47658b"/>
<rect x="610.70" y="664.90" width="21.60" height="322.93" fill="#486a8b"/>
<rect x="610.70" y="664.90" width="21.60" height="311.36" fill="#4a708c"/>
<rect x="610.70" y="664.90" width="21.60" height="299.79" fill="#4b768c"/>
<rect x="610.70" y="664.90" width="21.60" height="288.22" fill="#4d7b8c"/>
<rect x="610.70" y="664.90" width="21.60" height="276.65" fill="#4f818c"/>
<rect x="610.70" y="664.90" width="21.60" height="265.07" fill="#52868c"/>
<rect x="610.70" y="664.90" width="21.60" height="253.50" fill="#548c8c"/>
<rect x="610.70" y="664.90" width="21.60" height="241.93" fill="#57928b"/>
<rect x="610.70" y="664.90" width="21.60" height="230.36" fill="#5a988a"/>
<rect x="610.70" y="664.90" width="21.60" height="218.79" fill="#5d9d88"/>
<rect x="610.70" y="664.90" width="21.60" height="207.22" fill="#60a386"/>
<rect x="610.70" y="664.90" width="21.60" height="195.65" fill="#64a884"/>
<rect x="610.70" y="664.90" width="21.60" height="184.08" fill="#68ae81"/>
<rect x="610.70" y="664.90" width="21.60" height="172.51" fill="#6db37d"/>
<rect x="610.70" y="664.90" width="21.60" height="160.94" fill="#72b879"/>
<rect x="610.70" y="664.90" width="21.60" height="149.37" fill="#79ba74"/>
<rect x="610.70" y="664.90" width="21.60" height="137.80" fill="#80bb70"/>
<rect x="610.70" y="664.90" width="21.60" height="126.23" fill="#87be6c"/>
<rect x="610.70" y="664.90" width="21.60" height="114.66" fill="#8fc267"/>
<rect x="610.70" y="664.90" width="21.60" height="103.09" fill="#98c660"/>
<rect x="610.70" y="664.90" width="21.60" height="91.52" fill="#a2ca5a"/>
<rect x="610.70" y="664.90" width="21.60" height="79.95" fill="#accd54"/>
<rect x="610.70" y="664.90" width="21.60" height="68.38" fill="#b7d04d"/>
<rect x="610.70" y="664.90" width="21.60" height="56.81" fill="#c4d547"/>
<rect x="610.70" y="664.90" width="21.60" height="45.24" fill="#d0da43"/>
<rect x="610.70" y="664.90" width="21.60" height="33.67" fill="#dcdf3f"/>
<rect x="610.70" y="664.90" width="21.60" height="22.10" fill="#e8e33e"/>
<rect x="610.70" y="664.90" width="21.60" height="10.53" fill="#f3e640"/>
<rect x="85.30" y="664.80" width="487.20" height="484.70" fill="none" stroke="#000" stroke-width="2.00"/>
<rect x="610.70" y="664.90" width="21.60" height="484.10" fill="none" stroke="#000" stroke-width="2.00"/>
<path d="M77.60 664.80H85.30 M77.60 725.39H85.30 M77.60 785.97H85.30 M77.60 846.56H85.30 M77.60 907.15H85.30 M77.60 967.74H85.30 M77.60 1028.33H85.30 M77.60 1088.91H85.30 M77.60 1149.50H85.30 M85.30 1149.50V1158.30 M207.10 1149.50V1158.30 M328.90 1149.50V1158.30 M450.70 1149.50V1158.30 M572.50 1149.50V1158.30 M632.30 1138.24H640.50 M632.30 1080.39H640.50 M632.30 1022.54H640.50 M632.30 964.69H640.50 M632.30 906.83H640.50 M632.30 848.98H640.50 M632.30 791.13H640.50 M632.30 733.28H640.50 M632.30 675.43H640.50" stroke="#000" stroke-width="2.00" fill="none"/>
<text x="21.42" y="672.30" textLength="46.82" lengthAdjust="spacingAndGlyphs" font-size="25.00">1.00</text>
<text x="21.83" y="732.89" textLength="46.48" lengthAdjust="spacingAndGlyphs" font-size="25.00">0.75</text>
<text x="21.37" y="793.47" textLength="46.87" lengthAdjust="spacingAndGlyphs" font-size="25.00">0.50</text>
<text x="21.83" y="854.06" textLength="46.48" lengthAdjust="spacingAndGlyphs" font-size="25.00">0.25</text>
<text x="21.37" y="914.65" textLength="46.87" lengthAdjust="spacingAndGlyphs" font-size="25.00">0.00</text>
<text x="2.25" y="975.24" textLength="16.17" lengthAdjust="spacingAndGlyphs" font-size="25.00">−</text>
<text x="20.43" y="975.24" textLength="46.48" lengthAdjust="spacingAndGlyphs" font-size="25.00">0.25</text>
<text x="1.80" y="1035.83" textLength="16.17" lengthAdjust="spacingAndGlyphs" font-size="25.00">−</text>
<text x="19.97" y="1035.83" textLength="46.87" lengthAdjust="spacingAndGlyphs" font-size="25.00">0.50</text>
<text x="2.25" y="1096.41" textLength="16.17" lengthAdjust="spacingAndGlyphs" font-size="25.00">−</text>
<text x="20.43" y="1096.41" textLength="46.48" lengthAdjust="spacingAndGlyphs" font-size="25.00">0.75</text>
<text x="1.80" y="1157.00" textLength="16.17" lengthAdjust="spacingAndGlyphs" font-size="25.00">−</text>
<text x="20.02" y="1157.00" textLength="46.82" lengthAdjust="spacingAndGlyphs" font-size="25.00">1.00</text>
<text x="59.00" y="1182.30" textLength="16.17" lengthAdjust="spacingAndGlyphs" font-size="25.00">−</text>
<text x="75.84" y="1182.30" textLength="33.13" lengthAdjust="spacingAndGlyphs" font-size="25.00">1.0</text>
<text x="181.03" y="1182.30" textLength="16.17" lengthAdjust="spacingAndGlyphs" font-size="25.00">−</text>
<text x="197.82" y="1182.30" textLength="32.78" lengthAdjust="spacingAndGlyphs" font-size="25.00">0.5</text>
<text x="310.81" y="1182.30" textLength="33.19" lengthAdjust="spacingAndGlyphs" font-size="25.00">0.0</text>
<text x="432.84" y="1182.30" textLength="32.78" lengthAdjust="spacingAndGlyphs" font-size="25.00">0.5</text>
<text x="554.00" y="1182.30" textLength="33.13" lengthAdjust="spacingAndGlyphs" font-size="25.00">1.0</text>
<text x="650.44" y="1146.24" textLength="16.17" lengthAdjust="spacingAndGlyphs" font-size="25.00">−</text>
<text x="667.22" y="1146.24" textLength="32.78" lengthAdjust="spacingAndGlyphs" font-size="25.00">0.5</text>
<text x="649.20" y="1088.39" textLength="33.19" lengthAdjust="spacingAndGlyphs" font-size="25.00">0.0</text>
<text x="649.21" y="1030.54" textLength="32.78" lengthAdjust="spacingAndGlyphs" font-size="25.00">0.5</text>
<text x="649.27" y="972.69" textLength="33.13" lengthAdjust="spacingAndGlyphs" font-size="25.00">1.0</text>
<text x="649.29" y="914.83" textLength="32.71" lengthAdjust="spacingAndGlyphs" font-size="25.00">1.5</text>
<text x="649.09" y="856.98" textLength="33.31" lengthAdjust="spacingAndGlyphs" font-size="25.00">2.0</text>
<text x="649.10" y="799.13" textLength="32.90" lengthAdjust="spacingAndGlyphs" font-size="25.00">2.5</text>
<text x="649.45" y="741.28" textLength="32.93" lengthAdjust="spacingAndGlyphs" font-size="25.00">3.0</text>
<text x="649.46" y="683.43" textLength="32.52" lengthAdjust="spacingAndGlyphs" font-size="25.00">3.5</text>
<text x="94.20" y="649.90" textLength="132.43" lengthAdjust="spacingAndGlyphs" font-size="29.80">Lippmann</text>
<text x="235.88" y="649.90" textLength="139.69" lengthAdjust="spacingAndGlyphs" font-size="29.80">Schwinger</text>
<text x="383.86" y="649.90" textLength="106.96" lengthAdjust="spacingAndGlyphs" font-size="29.80">Lanczos</text>
<text x="500.19" y="649.90" textLength="62.18" lengthAdjust="spacingAndGlyphs" font-size="29.80">SISO</text>
<rect x="842.40" y="664.70" width="486.00" height="484.80" fill="#5b9a89"/>
<rect x="850.99" y="664.70" width="477.41" height="484.80" fill="#5fa187"/>
<rect x="865.51" y="664.70" width="462.89" height="484.80" fill="#5b9a89"/>
<rect x="869.61" y="664.70" width="458.79" height="484.80" fill="#58958a"/>
<rect x="872.61" y="664.70" width="455.79" height="484.80" fill="#568f8b"/>
<rect x="875.33" y="664.70" width="453.07" height="484.80" fill="#538a8c"/>
<rect x="878.01" y="664.70" width="450.39" height="484.80" fill="#51838c"/>
<rect x="880.63" y="664.70" width="447.77" height="484.80" fill="#4e7e8c"/>
<rect x="883.95" y="664.70" width="444.45" height="484.80" fill="#4c788c"/>
<rect x="887.47" y="664.70" width="440.93" height="484.80" fill="#4b738c"/>
<rect x="890.59" y="664.70" width="437.81" height="484.80" fill="#496c8c"/>
<rect x="896.17" y="664.70" width="432.23" height="484.80" fill="#47678b"/>
<rect x="902.47" y="664.70" width="425.93" height="484.80" fill="#496c8c"/>
<rect x="905.35" y="664.70" width="423.05" height="484.80" fill="#4b738c"/>
<rect x="907.87" y="664.70" width="420.53" height="484.80" fill="#4c788c"/>
<rect x="910.59" y="664.70" width="417.81" height="484.80" fill="#4e7e8c"/>
<rect x="912.41" y="664.70" width="415.99" height="484.80" fill="#51838c"/>
<rect x="914.95" y="664.70" width="413.45" height="484.80" fill="#538a8c"/>
<rect x="919.03" y="664.70" width="409.37" height="484.80" fill="#568f8b"/>
<rect x="922.33" y="664.70" width="406.07" height="484.80" fill="#58958a"/>
<rect x="925.15" y="664.70" width="403.25" height="484.80" fill="#5b9a89"/>
<rect x="927.77" y="664.70" width="400.63" height="484.80" fill="#5fa187"/>
<rect x="930.13" y="664.70" width="398.27" height="484.80" fill="#62a685"/>
<rect x="932.43" y="664.70" width="395.97" height="484.80" fill="#66ac82"/>
<rect x="935.11" y="664.70" width="393.29" height="484.80" fill="#6bb17e"/>
<rect x="938.27" y="664.70" width="390.13" height="484.80" fill="#71b87a"/>
<rect x="940.31" y="664.70" width="388.09" height="484.80" fill="#77ba75"/>
<rect x="942.13" y="664.70" width="386.27" height="484.80" fill="#7dbb72"/>
<rect x="944.59" y="664.70" width="383.81" height="484.80" fill="#84bc6e"/>
<rect x="947.61" y="664.70" width="380.79" height="484.80" fill="#8ec268"/>
<rect x="950.57" y="664.70" width="377.83" height="484.80" fill="#97c661"/>
<rect x="953.23" y="664.70" width="375.17" height="484.80" fill="#a0c95b"/>
<rect x="955.91" y="664.70" width="372.49" height="484.80" fill="#accd53"/>
<rect x="959.79" y="664.70" width="368.61" height="484.80" fill="#b7d04d"/>
<rect x="962.81" y="664.70" width="365.59" height="484.80" fill="#c2d548"/>
<rect x="965.41" y="664.70" width="362.99" height="484.80" fill="#ceda44"/>
<rect x="970.13" y="664.70" width="358.27" height="484.80" fill="#dcdf3f"/>
<rect x="975.31" y="664.70" width="353.09" height="484.80" fill="#e8e33e"/>
<rect x="979.87" y="664.70" width="348.53" height="484.80" fill="#f3e640"/>
<rect x="1002.99" y="664.70" width="325.41" height="484.80" fill="#e8e33e"/>
<rect x="1006.93" y="664.70" width="321.47" height="484.80" fill="#dcdf3f"/>
<rect x="1015.23" y="664.70" width="313.17" height="484.80" fill="#ceda44"/>
<rect x="1022.95" y="664.70" width="305.45" height="484.80" fill="#c2d548"/>
<rect x="1026.69" y="664.70" width="301.71" height="484.80" fill="#b7d04d"/>
<rect x="1031.49" y="664.70" width="296.91" height="484.80" fill="#accd53"/>
<rect x="1036.37" y="664.70" width="292.03" height="484.80" fill="#a0c95b"/>
<rect x="1041.17" y="664.70" width="287.23" height="484.80" fill="#97c661"/>
<rect x="1045.99" y="664.70" width="282.41" height="484.80" fill="#8ec268"/>
<rect x="1050.93" y="664.70" width="277.47" height="484.80" fill="#84bc6e"/>
<rect x="1055.93" y="664.70" width="272.47" height="484.80" fill="#7dbb72"/>
<rect x="1061.25" y="664.70" width="267.15" height="484.80" fill="#77ba75"/>
<rect x="1066.65" y="664.70" width="261.75" height="484.80" fill="#71b87a"/>
<rect x="1073.43" y="664.70" width="254.97" height="484.80" fill="#6bb17e"/>
<rect x="1108.25" y="664.70" width="220.15" height="484.80" fill="#71b87a"/>
<rect x="1115.01" y="664.70" width="213.39" height="484.80" fill="#77ba75"/>
<rect x="1120.73" y="664.70" width="207.67" height="484.80" fill="#7dbb72"/>
<rect x="1125.51" y="664.70" width="202.89" height="484.80" fill="#84bc6e"/>
<rect x="1129.67" y="664.70" width="198.73" height="484.80" fill="#8ec268"/>
<rect x="1137.39" y="664.70" width="191.01" height="484.80" fill="#97c661"/>
<rect x="1142.87" y="664.70" width="185.53" height="484.80" fill="#a0c95b"/>
<rect x="1146.85" y="664.70" width="181.55" height="484.80" fill="#accd53"/>
<rect x="1153.07" y="664.70" width="175.33" height="484.80" fill="#b7d04d"/>
<rect x="1161.27" y="664.70" width="167.13" height="484.80" fill="#c2d548"/>
<rect x="1166.81" y="664.70" width="161.59" height="484.80" fill="#ceda44"/>
<rect x="1189.99" y="664.70" width="138.41" height="484.80" fill="#c2d548"/>
<rect x="1194.33" y="664.70" width="134.07" height="484.80" fill="#b7d04d"/>
<rect x="1198.33" y="664.70" width="130.07" height="484.80" fill="#accd53"/>
<rect x="1201.59" y="664.70" width="126.81" height="484.80" fill="#a0c95b"/>
<rect x="1204.57" y="664.70" width="123.83" height="484.80" fill="#97c661"/>
<rect x="1207.21" y="664.70" width="121.19" height="484.80" fill="#8ec268"/>
<rect x="1209.87" y="664.70" width="118.53" height="484.80" fill="#84bc6e"/>
<rect x="1212.59" y="664.70" width="115.81" height="484.80" fill="#7dbb72"/>
<rect x="1214.13" y="664.70" width="114.27" height="484.80" fill="#77ba75"/>
<rect x="1215.47" y="664.70" width="112.93" height="484.80" fill="#71b87a"/>
<rect x="1216.87" y="664.70" width="111.53" height="484.80" fill="#6bb17e"/>
<rect x="1218.39" y="664.70" width="110.01" height="484.80" fill="#66ac82"/>
<rect x="1219.91" y="664.70" width="108.49" height="484.80" fill="#62a685"/>
<rect x="1221.47" y="664.70" width="106.93" height="484.80" fill="#5fa187"/>
<rect x="1223.09" y="664.70" width="105.31" height="484.80" fill="#5b9a89"/>
<rect x="1224.73" y="664.70" width="103.67" height="484.80" fill="#58958a"/>
<rect x="1226.35" y="664.70" width="102.05" height="484.80" fill="#568f8b"/>
<rect x="1228.15" y="664.70" width="100.25" height="484.80" fill="#538a8c"/>
<rect x="1230.03" y="664.70" width="98.37" height="484.80" fill="#51838c"/>
<rect x="1231.91" y="664.70" width="96.49" height="484.80" fill="#4e7e8c"/>
<rect x="1233.55" y="664.70" width="94.85" height="484.80" fill="#4c788c"/>
<rect x="1234.91" y="664.70" width="93.49" height="484.80" fill="#4b738c"/>
<rect x="1236.25" y="664.70" width="92.15" height="484.80" fill="#496c8c"/>
<rect x="1237.59" y="664.70" width="90.81" height="484.80" fill="#47678b"/>
<rect x="1238.87" y="664.70" width="89.53" height="484.80" fill="#46618b"/>
<rect x="1240.15" y="664.70" width="88.25" height="484.80" fill="#455b8a"/>
<rect x="1241.57" y="664.70" width="86.83" height="484.80" fill="#445488"/>
<rect x="1243.25" y="664.70" width="85.15" height="484.80" fill="#444e87"/>
<rect x="1244.93" y="664.70" width="83.47" height="484.80" fill="#444885"/>
<rect x="1246.59" y="664.70" width="81.81" height="484.80" fill="#434082"/>
<rect x="1248.27" y="664.70" width="80.13" height="484.80" fill="#43397e"/>
<rect x="1249.89" y="664.70" width="78.51" height="484.80" fill="#43337a"/>
<rect x="1251.47" y="664.70" width="76.93" height="484.80" fill="#422e75"/>
<rect x="1253.05" y="664.70" width="75.35" height="484.80" fill="#422a6e"/>
<rect x="1255.11" y="664.70" width="73.29" height="484.80" fill="#402667"/>
<rect x="1257.17" y="664.70" width="71.23" height="484.80" fill="#3f235f"/>
<rect x="1266.63" y="664.70" width="61.77" height="484.80" fill="#402667"/>
<rect x="1268.19" y="664.70" width="60.21" height="484.80" fill="#422a6e"/>
<rect x="1269.71" y="664.70" width="58.69" height="484.80" fill="#422e75"/>
<rect x="1271.05" y="664.70" width="57.35" height="484.80" fill="#43337a"/>
<rect x="1272.39" y="664.70" width="56.01" height="484.80" fill="#43397e"/>
<rect x="1273.73" y="664.70" width="54.67" height="484.80" fill="#434082"/>
<rect x="1275.07" y="664.70" width="53.33" height="484.80" fill="#444885"/>
<rect x="1276.09" y="664.70" width="52.31" height="484.80" fill="#444e87"/>
<rect x="1276.95" y="664.70" width="51.45" height="484.80" fill="#445488"/>
<rect x="1277.81" y="664.70" width="50.59" height="484.80" fill="#455b8a"/>
<rect x="1278.67" y="664.70" width="49.73" height="484.80" fill="#46618b"/>
<rect x="1279.53" y="664.70" width="48.87" height="484.80" fill="#47678b"/>
<rect x="1280.39" y="664.70" width="48.01" height="484.80" fill="#496c8c"/>
<rect x="1281.19" y="664.70" width="47.21" height="484.80" fill="#4b738c"/>
<rect x="1281.77" y="664.70" width="46.63" height="484.80" fill="#4c788c"/>
<rect x="1282.37" y="664.70" width="46.03" height="484.80" fill="#4e7e8c"/>
<rect x="1282.97" y="664.70" width="45.43" height="484.80" fill="#51838c"/>
<rect x="1283.57" y="664.70" width="44.83" height="484.80" fill="#538a8c"/>
<rect x="1284.17" y="664.70" width="44.23" height="484.80" fill="#568f8b"/>
<rect x="1284.77" y="664.70" width="43.63" height="484.80" fill="#58958a"/>
<rect x="1285.37" y="664.70" width="43.03" height="484.80" fill="#5b9a89"/>
<rect x="1285.97" y="664.70" width="42.43" height="484.80" fill="#5fa187"/>
<rect x="1286.59" y="664.70" width="41.81" height="484.80" fill="#62a685"/>
<rect x="1287.19" y="664.70" width="41.21" height="484.80" fill="#66ac82"/>
<rect x="1287.81" y="664.70" width="40.59" height="484.80" fill="#6bb17e"/>
<rect x="1288.41" y="664.70" width="39.99" height="484.80" fill="#71b87a"/>
<rect x="1289.39" y="664.70" width="39.01" height="484.80" fill="#6bb17e"/>
<rect x="1290.29" y="664.70" width="38.11" height="484.80" fill="#66ac82"/>
<rect x="1291.21" y="664.70" width="37.19" height="484.80" fill="#62a685"/>
<rect x="1292.13" y="664.70" width="36.27" height="484.80" fill="#5fa187"/>
<rect x="1293.21" y="664.70" width="35.19" height="484.80" fill="#5b9a89"/>
<rect x="1294.31" y="664.70" width="34.09" height="484.80" fill="#58958a"/>
<rect x="1295.39" y="664.70" width="33.01" height="484.80" fill="#568f8b"/>
<rect x="1366.90" y="664.90" width="22.50" height="484.50" fill="#3d1e57"/>
<rect x="1366.90" y="664.90" width="22.50" height="472.65" fill="#3f235f"/>
<rect x="1366.90" y="664.90" width="22.50" height="460.80" fill="#402667"/>
<rect x="1366.90" y="664.90" width="22.50" height="448.95" fill="#422a6e"/>
<rect x="1366.90" y="664.90" width="22.50" height="437.10" fill="#422e75"/>
<rect x="1366.90" y="664.90" width="22.50" height="425.25" fill="#43337a"/>
<rect x="1366.90" y="664.90" width="22.50" height="413.40" fill="#43397e"/>
<rect x="1366.90" y="664.90" width="22.50" height="401.55" fill="#434082"/>
<rect x="1366.90" y="664.90" width="22.50" height="389.70" fill="#444885"/>
<rect x="1366.90" y="664.90" width="22.50" height="377.85" fill="#444e87"/>
<rect x="1366.90" y="664.90" width="22.50" height="366.00" fill="#445488"/>
<rect x="1366.90" y="664.90" width="22.50" height="354.15" fill="#455b8a"/>
<rect x="1366.90" y="664.90" width="22.50" height="342.30" fill="#46618b"/>
<rect x="1366.90" y="664.90" width="22.50" height="330.45" fill="#47678b"/>
<rect x="1366.90" y="664.90" width="22.50" height="318.60" fill="#496c8c"/>
<rect x="1366.90" y="664.90" width="22.50" height="306.75" fill="#4b738c"/>
<rect x="1366.90" y="664.90" width="22.50" height="294.90" fill="#4c788c"/>
<rect x="1366.90" y="664.90" width="22.50" height="283.04" fill="#4e7e8c"/>
<rect x="1366.90" y="664.90" width="22.50" height="271.19" fill="#51838c"/>
<rect x="1366.90" y="664.90" width="22.50" height="259.34" fill="#538a8c"/>
<rect x="1366.90" y="664.90" width="22.50" height="247.49" fill="#568f8b"/>
<rect x="1366.90" y="664.90" width="22.50" height="235.64" fill="#58958a"/>
<rect x="1366.90" y="664.90" width="22.50" height="223.79" fill="#5b9a89"/>
<rect x="1366.90" y="664.90" width="22.50" height="211.94" fill="#5fa187"/>
<rect x="1366.90" y="664.90" width="22.50" height="200.09" fill="#62a685"/>
<rect x="1366.90" y="664.90" width="22.50" height="188.24" fill="#66ac82"/>
<rect x="1366.90" y="664.90" width="22.50" height="176.39" fill="#6bb17e"/>
<rect x="1366.90" y="664.90" width="22.50" height="164.54" fill="#71b87a"/>
<rect x="1366.90" y="664.90" width="22.50" height="152.69" fill="#77ba75"/>
<rect x="1366.90" y="664.90" width="22.50" height="140.84" fill="#7dbb72"/>
<rect x="1366.90" y="664.90" width="22.50" height="128.99" fill="#84bc6e"/>
<rect x="1366.90" y="664.90" width="22.50" height="117.14" fill="#8ec268"/>
<rect x="1366.90" y="664.90" width="22.50" height="105.29" fill="#97c661"/>
<rect x="1366.90" y="664.90" width="22.50" height="93.44" fill="#a0c95b"/>
<rect x="1366.90" y="664.90" width="22.50" height="81.59" fill="#accd53"/>
<rect x="1366.90" y="664.90" width="22.50" height="69.74" fill="#b7d04d"/>
<rect x="1366.90" y="664.90" width="22.50" height="57.89" fill="#c2d548"/>
<rect x="1366.90" y="664.90" width="22.50" height="46.04" fill="#ceda44"/>
<rect x="1366.90" y="664.90" width="22.50" height="34.19" fill="#dcdf3f"/>
<rect x="1366.90" y="664.90" width="22.50" height="22.34" fill="#e8e33e"/>
<rect x="1366.90" y="664.90" width="22.50" height="10.49" fill="#f3e640"/>
<rect x="842.40" y="664.70" width="486.00" height="484.80" fill="none" stroke="#000" stroke-width="2.00"/>
<rect x="1366.90" y="664.90" width="22.50" height="484.50" fill="none" stroke="#000" stroke-width="2.00"/>
<path d="M834.70 664.70H842.40 M834.70 725.30H842.40 M834.70 785.90H842.40 M834.70 846.50H842.40 M834.70 907.10H842.40 M834.70 967.70H842.40 M834.70 1028.30H842.40 M834.70 1088.90H842.40 M834.70 1149.50H842.40 M842.40 1149.50V1158.30 M963.90 1149.50V1158.30 M1085.40 1149.50V1158.30 M1206.90 1149.50V1158.30 M1328.40 1149.50V1158.30 M1389.40 1149.40H1397.60 M1389.40 1090.15H1397.60 M1389.40 1030.90H1397.60 M1389.40 971.65H1397.60 M1389.40 912.39H1397.60 M1389.40 853.14H1397.60 M1389.40 793.89H1397.60 M1389.40 734.64H1397.60 M1389.40 675.39H1397.60" stroke="#000" stroke-width="2.00" fill="none"/>
<text x="778.52" y="672.20" textLength="46.82" lengthAdjust="spacingAndGlyphs" font-size="25.00">1.00</text>
<text x="778.93" y="732.80" textLength="46.48" lengthAdjust="spacingAndGlyphs" font-size="25.00">0.75</text>
<text x="778.47" y="793.40" textLength="46.87" lengthAdjust="spacingAndGlyphs" font-size="25.00">0.50</text>
<text x="778.93" y="854.00" textLength="46.48" lengthAdjust="spacingAndGlyphs" font-size="25.00">0.25</text>
<text x="778.47" y="914.60" textLength="46.87" lengthAdjust="spacingAndGlyphs" font-size="25.00">0.00</text>
<text x="759.35" y="975.20" textLength="16.17" lengthAdjust="spacingAndGlyphs" font-size="25.00">−</text>
<text x="777.53" y="975.20" textLength="46.48" lengthAdjust="spacingAndGlyphs" font-size="25.00">0.25</text>
<text x="758.90" y="1035.80" textLength="16.17" lengthAdjust="spacingAndGlyphs" font-size="25.00">−</text>
<text x="777.07" y="1035.80" textLength="46.87" lengthAdjust="spacingAndGlyphs" font-size="25.00">0.50</text>
<text x="759.35" y="1096.40" textLength="16.17" lengthAdjust="spacingAndGlyphs" font-size="25.00">−</text>
<text x="777.53" y="1096.40" textLength="46.48" lengthAdjust="spacingAndGlyphs" font-size="25.00">0.75</text>
<text x="758.90" y="1157.00" textLength="16.17" lengthAdjust="spacingAndGlyphs" font-size="25.00">−</text>
<text x="777.12" y="1157.00" textLength="46.82" lengthAdjust="spacingAndGlyphs" font-size="25.00">1.00</text>
<text x="816.10" y="1182.30" textLength="16.17" lengthAdjust="spacingAndGlyphs" font-size="25.00">−</text>
<text x="832.94" y="1182.30" textLength="33.13" lengthAdjust="spacingAndGlyphs" font-size="25.00">1.0</text>
<text x="937.83" y="1182.30" textLength="16.17" lengthAdjust="spacingAndGlyphs" font-size="25.00">−</text>
<text x="954.62" y="1182.30" textLength="32.78" lengthAdjust="spacingAndGlyphs" font-size="25.00">0.5</text>
<text x="1067.31" y="1182.30" textLength="33.19" lengthAdjust="spacingAndGlyphs" font-size="25.00">0.0</text>
<text x="1189.04" y="1182.30" textLength="32.78" lengthAdjust="spacingAndGlyphs" font-size="25.00">0.5</text>
<text x="1309.90" y="1182.30" textLength="33.13" lengthAdjust="spacingAndGlyphs" font-size="25.00">1.0</text>
<text x="1407.54" y="1157.40" textLength="16.17" lengthAdjust="spacingAndGlyphs" font-size="25.00">−</text>
<text x="1424.36" y="1157.40" textLength="12.60" lengthAdjust="spacingAndGlyphs" font-size="25.00">4</text>
<text x="1407.54" y="1098.15" textLength="16.17" lengthAdjust="spacingAndGlyphs" font-size="25.00">−</text>
<text x="1424.64" y="1098.15" textLength="12.09" lengthAdjust="spacingAndGlyphs" font-size="25.00">3</text>
<text x="1407.54" y="1038.90" textLength="16.17" lengthAdjust="spacingAndGlyphs" font-size="25.00">−</text>
<text x="1424.30" y="1038.90" textLength="12.14" lengthAdjust="spacingAndGlyphs" font-size="25.00">2</text>
<text x="1407.54" y="979.65" textLength="16.17" lengthAdjust="spacingAndGlyphs" font-size="25.00">−</text>
<text x="1424.54" y="979.65" textLength="12.03" lengthAdjust="spacingAndGlyphs" font-size="25.00">1</text>
<text x="1406.35" y="920.39" textLength="12.59" lengthAdjust="spacingAndGlyphs" font-size="25.00">0</text>
<text x="1406.54" y="861.14" textLength="12.03" lengthAdjust="spacingAndGlyphs" font-size="25.00">1</text>
<text x="1406.29" y="801.89" textLength="12.14" lengthAdjust="spacingAndGlyphs" font-size="25.00">2</text>
<text x="1406.63" y="742.64" textLength="12.09" lengthAdjust="spacingAndGlyphs" font-size="25.00">3</text>
<text x="1406.34" y="683.39" textLength="12.60" lengthAdjust="spacingAndGlyphs" font-size="25.00">4</text>
<text x="847.65" y="649.80" textLength="132.43" lengthAdjust="spacingAndGlyphs" font-size="29.80">Lippmann</text>
<text x="989.32" y="649.80" textLength="139.69" lengthAdjust="spacingAndGlyphs" font-size="29.80">Schwinger</text>
<text x="1137.31" y="649.80" textLength="106.96" lengthAdjust="spacingAndGlyphs" font-size="29.80">Lanczos</text>
<text x="1253.60" y="649.80" textLength="68.35" lengthAdjust="spacingAndGlyphs" font-size="29.80">SIMO</text>
</g>
</svg></div>
</body></html>
